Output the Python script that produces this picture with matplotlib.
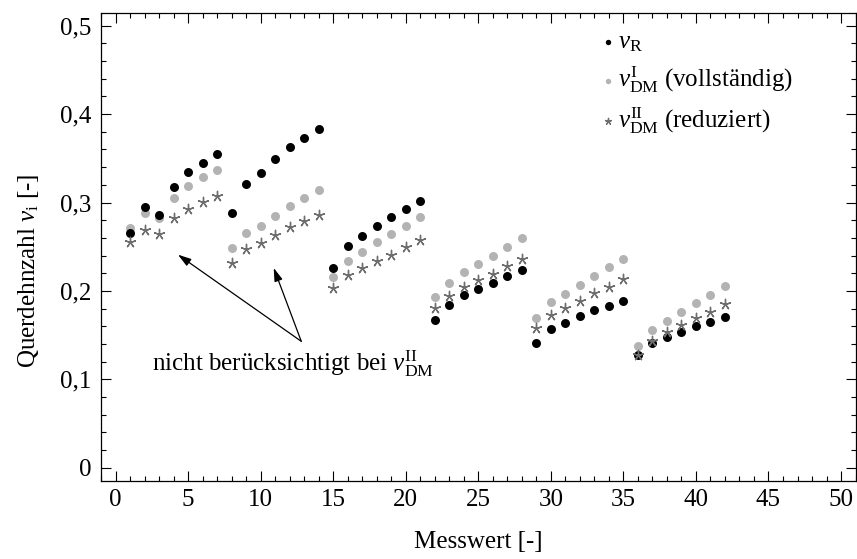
import matplotlib
matplotlib.use("Agg")
import matplotlib.pyplot as plt
from matplotlib.ticker import MultipleLocator, FuncFormatter

# ---- data ----
messwert = list(range(1, 43))
nu_R = [0.266, 0.295, 0.286, 0.317, 0.334, 0.345, 0.355,
        0.288, 0.321, 0.333, 0.349, 0.363, 0.373, 0.383,
        0.226, 0.251, 0.262, 0.273, 0.284, 0.293, 0.302,
        0.167, 0.184, 0.195, 0.202, 0.209, 0.217, 0.224,
        0.141, 0.157, 0.164, 0.172, 0.178, 0.183, 0.189,
        0.127, 0.141, 0.148, 0.154, 0.160, 0.165, 0.170]
nu_DM_I = [0.271, 0.288, 0.282, 0.305, 0.319, 0.329, 0.337,
           0.248, 0.266, 0.274, 0.285, 0.296, 0.305, 0.314,
           0.216, 0.234, 0.244, 0.255, 0.264, 0.274, 0.284,
           0.193, 0.209, 0.221, 0.231, 0.240, 0.250, 0.260,
           0.169, 0.187, 0.197, 0.207, 0.217, 0.227, 0.236,
           0.138, 0.156, 0.166, 0.176, 0.186, 0.195, 0.206]
nu_DM_II = [0.255, 0.269, 0.264, 0.282, 0.293, 0.301, 0.307,
            0.232, 0.247, 0.254, 0.263, 0.272, 0.279, 0.286,
            0.203, 0.218, 0.226, 0.234, 0.241, 0.250, 0.258,
            0.181, 0.194, 0.204, 0.212, 0.219, 0.228, 0.236,
            0.158, 0.173, 0.181, 0.189, 0.198, 0.205, 0.213,
            0.128, 0.143, 0.153, 0.161, 0.169, 0.176, 0.185]
labels = [r"$\nu_\mathrm{R}$",
          r"$\nu_\mathrm{DM}^\mathrm{I}$ (vollständig)",
          r"$\nu_\mathrm{DM}^\mathrm{II}$ (reduziert)"]
annot_text = r"nicht berücksichtigt bei $\nu_\mathrm{DM}^\mathrm{II}$"
annot_targets = [(4.3, 0.241), (10.9, 0.226)]
annot_tail = (12.8, 0.143)

FS = 18
plt.rcParams['font.family'] = ['Liberation Serif', 'DejaVu Serif']
plt.rcParams['mathtext.fontset'] = 'custom'
plt.rcParams['mathtext.rm'] = 'Liberation Serif'
plt.rcParams['mathtext.it'] = 'Liberation Serif:italic'
plt.rcParams['mathtext.bf'] = 'Liberation Serif:bold'

fig = plt.figure(figsize=(8.57, 5.59), dpi=100)
ax = fig.add_axes([0.1179, 0.1395, 0.8804, 0.8367])

ax.scatter(messwert, nu_R, s=42, color='black', marker='o', linewidths=0, label=labels[0], zorder=3)
ax.scatter(messwert, nu_DM_I, s=42, color='#b3b3b3', marker='o', linewidths=0, label=labels[1], zorder=2)
ax.scatter(messwert, nu_DM_II, s=55, color='#6e6e6e', marker=(5, 2, 0), linewidths=1.0, label=labels[2], zorder=4)

ax.set_xlim(-1, 51)
ax.set_ylim(-0.015, 0.514)
ax.xaxis.set_major_locator(MultipleLocator(5))
ax.xaxis.set_minor_locator(MultipleLocator(1))
ax.yaxis.set_major_locator(MultipleLocator(0.1))
ax.yaxis.set_minor_locator(MultipleLocator(0.02))

def comma_fmt(v, pos):
    if abs(v) < 1e-9:
        return "0"
    return ("%.1f" % v).replace('.', ',')
ax.yaxis.set_major_formatter(FuncFormatter(comma_fmt))

ax.tick_params(which='both', direction='in', top=True, right=True, labelsize=FS, width=0.8)
ax.tick_params(which='major', length=7)
ax.tick_params(which='minor', length=3.5)
ax.tick_params(axis='x', which='major', pad=6)
ax.tick_params(axis='y', which='major', pad=7)
for sp in ax.spines.values():
    sp.set_linewidth(0.9)

ax.set_xlabel("Messwert [-]", fontsize=FS, labelpad=14)
ax.set_ylabel(r"Querdehnzahl $\nu_\mathrm{i}$ [-]", fontsize=FS)
ax.yaxis.set_label_coords(-0.08, 0.45)

leg = ax.legend(loc='upper left', fontsize=FS, frameon=False, handletextpad=0.15,
                handlelength=0.5, labelspacing=0.4, markerscale=0.6,
                bbox_to_anchor=(0.664, 0.962), borderaxespad=0, borderpad=0)

for tgt in annot_targets:
    ax.annotate("", xy=tgt, xytext=annot_tail,
                arrowprops=dict(arrowstyle='-|>,head_length=0.8,head_width=0.25',
                                color='black', lw=0.9, shrinkA=0, shrinkB=0))
ax.text(12.25, 0.110, annot_text, fontsize=FS, ha='center', va='baseline')

fig.savefig("out.png", dpi=100)
